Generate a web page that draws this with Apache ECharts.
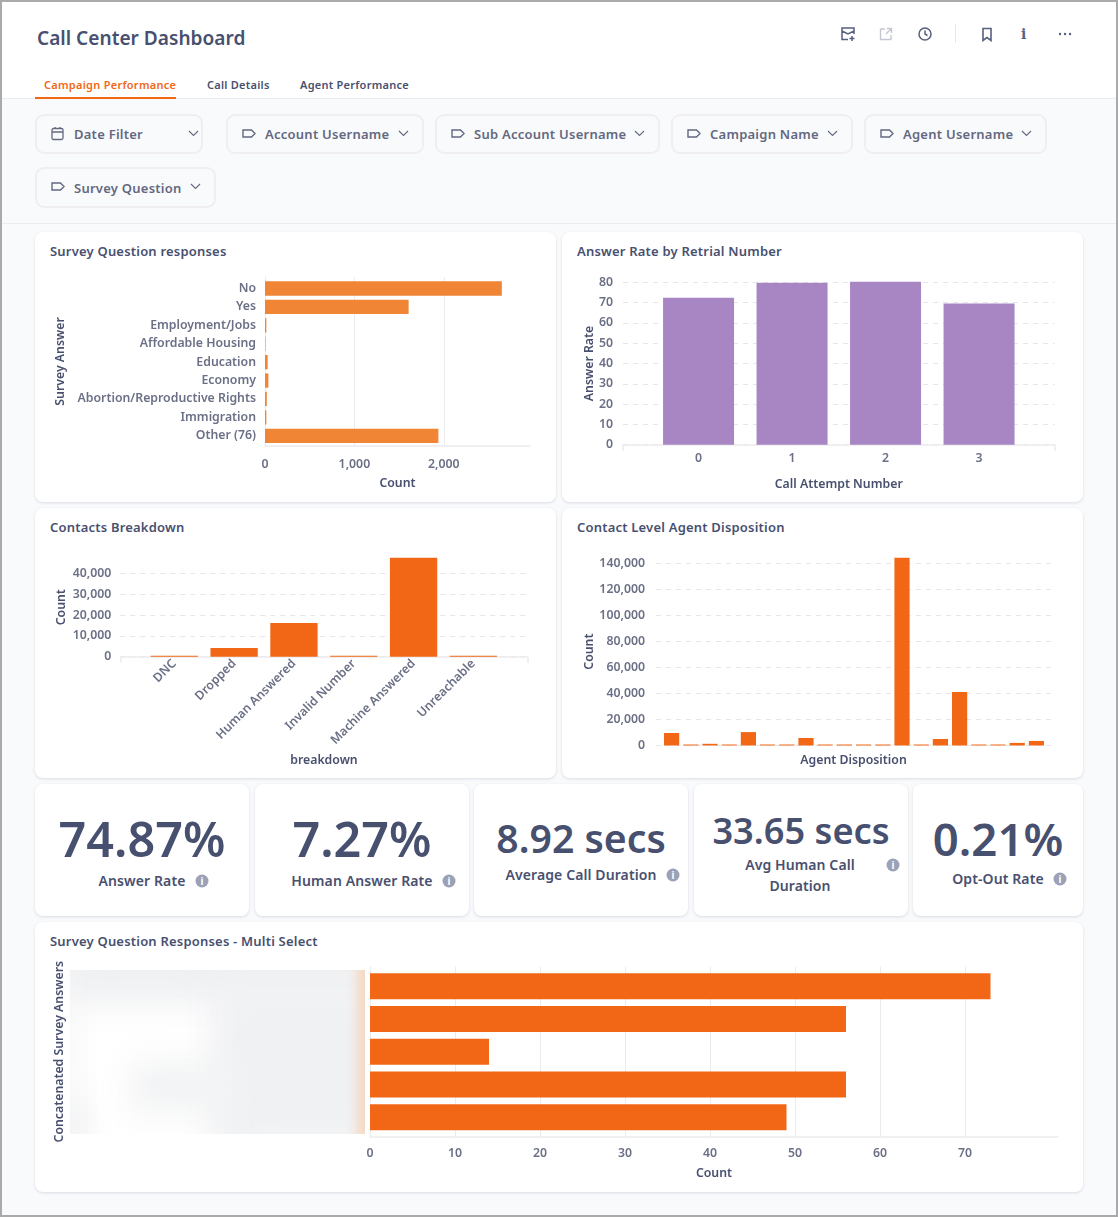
<!DOCTYPE html>
<html><head><meta charset="utf-8">
<script src="https://cdn.jsdelivr.net/npm/echarts@6/dist/echarts.min.js"></script>
<style>
html,body{margin:0;padding:0;background:#fff}
body{width:1118px;height:1217px;position:relative;overflow:hidden;font-family:"Noto Sans",sans-serif;font-weight:600;color:#48506f}
#frame{position:absolute;left:0;top:0;width:1118px;height:1217px;box-sizing:border-box;border:2px solid #aaa;z-index:5;pointer-events:none}
.abs{position:absolute;white-space:nowrap}
#hdr{position:absolute;left:0;top:0;width:1118px;height:98px;background:#fff;border-bottom:1px solid #ebecef}
#bg{position:absolute;left:0;top:99px;width:1118px;height:1118px;background:#f9fafc}
#fl{position:absolute;left:0;top:223px;width:1118px;height:1px;background:#ebecef}
.f{position:absolute;box-sizing:border-box;border:2px solid #f0eef1;border-radius:9px;background:#f9fafc;color:#636880;font-size:13px;letter-spacing:.25px;line-height:36px}
.f span{position:absolute;top:0}
.f svg{position:absolute}
.c{position:absolute;background:#fff;border-radius:8px;box-shadow:0 1px 3px rgba(60,70,100,.16)}
.t{position:absolute;font-size:13px;letter-spacing:.2px;line-height:18px;white-space:nowrap;color:#48506f}
.k{position:absolute;white-space:nowrap;transform:translate(-50%,-50%);color:#48506f}
.i{position:absolute;width:13px;height:13px;border-radius:50%;background:#9ba1b6;color:#fff;font-size:10px;line-height:13px;text-align:center;font-weight:700;transform:translate(-50%,-50%)}
#blur{position:absolute;left:70px;top:970px;width:295px;height:164px;overflow:hidden;background:#fff}
#blur div{position:absolute;filter:blur(16px)}
#chart{position:absolute;left:0;top:0;width:1118px;height:1217px;z-index:3}
</style></head><body>
<div id="bg"></div><div id="hdr"></div><div id="fl"></div>
<div class="abs" style="left:37px;top:24px;font-size:19.1px;line-height:28px;color:#48506f">Call Center Dashboard</div>
<div class="abs" style="left:44px;top:77px;font-size:11px;letter-spacing:.27px;line-height:16px;color:#f26716">Campaign Performance</div>
<div class="abs" style="left:207px;top:77px;font-size:11px;letter-spacing:.25px;line-height:16px">Call Details</div>
<div class="abs" style="left:300px;top:77px;font-size:11px;letter-spacing:.25px;line-height:16px">Agent Performance</div>
<div class="abs" style="left:35px;top:97px;width:141px;height:1.5px;background:#f26716"></div>
<div class="abs" style="left:955px;top:24px;width:1px;height:19px;background:#e6e7ec"></div>
<svg class="abs" style="left:840px;top:26px" width="16" height="16" viewBox="0 0 16 16" fill="none" stroke="#566080" stroke-width="1.5"><path d="M8 13.5H2V2h12v6M2 5l6 3 6-3M12 10v5M9.5 12.5h5"/></svg>
<svg class="abs" style="left:879px;top:27px" width="14" height="14" viewBox="0 0 14 14" fill="none" stroke="#c5c8d4" stroke-width="1.4"><path d="M6 2H1.5v10.5H12V8M8 1.5h4.5V6M12.5 1.5L7 7"/></svg>
<svg class="abs" style="left:917px;top:26px" width="16" height="16" viewBox="0 0 16 16" fill="none" stroke="#566080" stroke-width="1.5"><circle cx="8" cy="8" r="6"/><path d="M8 4.5V8l2.5 1.5"/></svg>
<svg class="abs" style="left:981px;top:27px" width="12" height="15" viewBox="0 0 12 15" fill="none" stroke="#566080" stroke-width="1.6"><path d="M2 1.5h8v12L6 10.5l-4 3z"/></svg>
<div class="abs" style="left:1021px;top:25px;font-size:14px;line-height:18px;font-family:'DejaVu Serif',serif;font-weight:700;color:#566080">i</div>
<svg class="abs" style="left:1058px;top:32px" width="14" height="4" viewBox="0 0 14 4" fill="#566080"><circle cx="2" cy="2" r="1.2"/><circle cx="7" cy="2" r="1.2"/><circle cx="12" cy="2" r="1.2"/></svg>
<div id="filters"></div>
<div id="cards"></div>
<div id="blur">
<div style="left:-30px;top:-30px;width:360px;height:62px;background:#eff0f2"></div>
<div style="left:140px;top:10px;width:190px;height:170px;background:#f0f1f3"></div>
<div style="left:60px;top:92px;width:110px;height:50px;background:#f2f3f4"></div>
<div style="left:-34px;top:130px;width:48px;height:60px;background:#eff0f2"></div>
<div style="left:-26px;top:-10px;width:30px;height:200px;background:#f4f5f6"></div>
<div style="left:288px;top:-20px;width:14px;height:200px;background:#f6d3bb;filter:blur(6px)"></div>
</div>
<div id="chart"></div>
<div id="frame"></div>
<script>
/* ---------- data ---------- */
const surveyAnswers = ['No','Yes','Employment/Jobs','Affordable Housing','Education','Economy','Abortion/Reproductive Rights','Immigration','Other (76)'];
const surveyCounts = [2650,1607,15,5,30,38,20,15,1940];
const attemptNumbers = ['0','1','2','3'];
const answerRates = [72.4,79.8,80.3,69.6];
const breakdownNames = ['DNC','Dropped','Human Answered','Invalid Number','Machine Answered','Unreachable'];
const breakdownCounts = [400,4150,16160,400,47500,400];
const dispositionNames = ['d01','d02','d03','d04','d05','d06','d07','d08','d09','d10','d11','d12','d13','d14','d15','d16','d17','d18','d19','d20'];
const dispositionCounts = [9600,500,1300,500,10300,500,500,5800,500,500,500,500,144300,500,5000,41100,500,500,2000,3500];
const multiSelectAnswers = ['a1','a2','a3','a4','a5'];
const multiSelectCounts = [73,56,14,56,49];
const kpis = [
 {v:'74.87%',l:'Answer Rate',x:142,vy:837.5,vs:48.5,ly:881,lx:142,ix:202,iy:881},
 {v:'7.27%',l:'Human Answer Rate',x:362,vy:837.5,vs:48.5,ly:881,lx:362,ix:449,iy:881},
 {v:'8.92 secs',l:'Average Call Duration',x:581,vy:838,vs:39.2,ly:875,lx:581,ix:673,iy:875},
 {v:'33.65 secs',l:'Avg Human Call',l2:'Duration',x:801,vy:830,vs:36.2,ly:865,lx:800,ix:893,iy:865},
 {v:'0.21%',l:'Opt-Out Rate',x:998,vy:838,vs:45.5,ly:879,lx:998,ix:1060,iy:879}
];
const filterDefs = [
 ['Date Filter',35,114,168,40,'cal'],['Account Username',226,114,198,40,'tag'],['Sub Account Username',435,114,225,40,'tag'],
 ['Campaign Name',671,114,182,40,'tag'],['Agent Username',864,114,183,40,'tag'],['Survey Question',35,167,181,41,'tag']
];
const cardTitles = [
 ['Survey Question responses',35,232,521,270],['Answer Rate by Retrial Number',562,232,521,270],
 ['Contacts Breakdown',35,508,521,270],['Contact Level Agent Disposition',562,508,521,270],
 ['Survey Question Responses - Multi Select',35,922,1048,270]
];
/* ---------- chrome ---------- */
const tagI='<svg style="left:14px;top:11px" width="14" height="13" viewBox="0 0 14 13" fill="none" stroke="#636880" stroke-width="1.4"><path d="M1 3h8.5L13 6.5 9.5 10H1z"/></svg>';
const calI='<svg style="left:14px;top:10px" width="13" height="15" viewBox="0 0 13 15" fill="none" stroke="#636880" stroke-width="1.3"><rect x="1" y="2.5" width="11" height="11" rx="1.5"/><path d="M1 6h11M4 1v2M9 1v2"/></svg>';
const chev=r=>`<svg style="right:${r}px;top:14px" width="11" height="7" viewBox="0 0 11 7" fill="none" stroke="#636880" stroke-width="1.1"><path d="M1 1l4.5 4.5L10 1"/></svg>`;
document.getElementById('filters').innerHTML=filterDefs.map(f=>`<div class="f" style="left:${f[1]}px;top:${f[2]}px;width:${f[3]}px;height:${f[4]}px;line-height:${f[4]-3}px">${f[5]=='cal'?calI:tagI}<span style="left:37px">${f[0]}</span>${chev(f[5]=='cal'?2:13)}</div>`).join('');
document.getElementById('cards').innerHTML=cardTitles.map(c=>`<div class="c" style="left:${c[1]}px;top:${c[2]}px;width:${c[3]}px;height:${c[4]}px"><div class="t" style="left:15px;top:10px">${c[0]}</div></div>`).join('')
 +[[35,214],[255,214],[474,214],[694,214],[913,170]].map(k=>`<div class="c" style="left:${k[0]}px;top:784px;width:${k[1]}px;height:132px"></div>`).join('')
 +kpis.map(k=>`<div class="k" style="left:${k.x}px;top:${k.vy}px;font-size:${k.vs}px;line-height:50px">${k.v}</div><div class="k" style="left:${k.lx}px;top:${k.ly}px;font-size:14px;letter-spacing:.1px;line-height:20px">${k.l}</div>`
  +(k.l2?`<div class="k" style="left:${k.lx}px;top:${k.ly+21}px;font-size:14px;letter-spacing:.1px;line-height:20px">${k.l2}</div>`:'')
  +`<div class="i" style="left:${k.ix}px;top:${k.iy}px">i</div>`).join('');
/* ---------- charts ---------- */
const FONT='"Noto Sans"',TICK='#6b7086',NAME='#48506f',LINE='#ebebef',DASH='#e6e6ea';
const lab=o=>Object.assign({fontFamily:FONT,fontWeight:600,fontSize:12.3,color:TICK},o||{});
const nameS={fontFamily:FONT,fontWeight:600,fontSize:12.3,color:NAME};
const grid=[],xAxis=[],yAxis=[],series=[];
function add(g,x,y,s){const i=grid.length;grid.push(Object.assign({containLabel:false},g));
 xAxis.push(Object.assign({gridIndex:i},x));yAxis.push(Object.assign({gridIndex:i},y));
 if(s)series.push(Object.assign({type:'bar',xAxisIndex:i,yAxisIndex:i,silent:true,animation:false},s));}
const off={show:false};
function hiddenVal(max){return {type:'value',min:0,max:max,show:false,splitLine:off};}
const box=(l,r,t,b)=>({left:l,top:t,width:r-l,height:b-t});
const dashed={show:true,showMaxLine:false,lineStyle:{color:DASH,type:[5,5],width:1}};
const down={padding:[4,0,0,0]};
const endAxis={type:'value',min:0,max:1,interval:1,axisLine:{show:true,lineStyle:{color:LINE,width:1.5}},axisTick:{show:true,length:6,lineStyle:{color:LINE,width:1.5}},axisLabel:off,splitLine:off};
/* horizontal survey */
const H1=2965;
add(box(265,530,277,446),{type:'value',min:0,max:H1,interval:1000,splitLine:{show:true,showMinLine:false,showMaxLine:false,lineStyle:{color:LINE,width:1}},
 axisLine:{show:true,lineStyle:{color:LINE,width:1.5}},axisTick:off,axisLabel:lab({margin:12,showMaxLabel:false}),name:'Count',nameLocation:'middle',nameGap:31,nameTextStyle:nameS},
 {type:'value',min:0,max:1,axisLine:{show:true,lineStyle:{color:LINE,width:1}},axisTick:off,axisLabel:off,splitLine:off,name:'Survey Answer',nameLocation:'middle',nameGap:199,nameTextStyle:nameS});
add(box(265,530,279.3,445),hiddenVal(H1),{type:'category',inverse:true,data:surveyAnswers,axisLine:off,axisTick:off,axisLabel:lab({margin:9,interval:0})},
 {data:surveyCounts,barWidth:14.3,itemStyle:{color:'#ef8535'}});
/* answer rate */
add(box(623,1054.5,282.3,444.7),Object.assign({},endAxis,{name:'Call Attempt Number',nameLocation:'middle',nameGap:34,nameTextStyle:nameS}),
 {type:'value',min:0,max:80,interval:10,axisLine:off,axisTick:off,axisLabel:lab(Object.assign({margin:10},down)),splitLine:{show:true,lineStyle:{color:DASH,type:[5,5]}},name:'Answer Rate',nameLocation:'middle',nameGap:28,nameTextStyle:nameS});
add(box(651.8,1025.8,281.7,444.7),{type:'category',data:attemptNumbers,axisLine:off,axisTick:off,axisLabel:lab({margin:8})},hiddenVal(80.3),
 {data:answerRates,barWidth:71,itemStyle:{color:'#a886c4'}});
/* contacts */
add(box(120.3,527.6,557.7,656.7),Object.assign({},endAxis,{name:'breakdown',nameLocation:'middle',nameGap:98,nameTextStyle:nameS}),
 {type:'value',min:0,max:47500,interval:10000,axisLine:off,axisTick:off,axisLabel:lab(Object.assign({margin:9,showMaxLabel:false},down)),splitLine:dashed,name:'Count',nameLocation:'middle',nameGap:53,nameTextStyle:nameS});
add(box(144.4,503.3,557.7,656.7),{type:'category',data:breakdownNames,axisLine:off,axisTick:off,axisLabel:lab({rotate:45,interval:0,margin:5})},hiddenVal(47500),
 {data:breakdownCounts,barWidth:47.3,itemStyle:{color:'#f26716'}});
/* disposition */
add(box(656,1051,557.7,745.5),{type:'value',min:0,max:1,show:true,axisLine:off,axisTick:off,axisLabel:off,splitLine:off,name:'Agent Disposition',nameLocation:'middle',nameGap:9,nameTextStyle:nameS},
 {type:'value',min:0,max:144300,interval:20000,axisLine:off,axisTick:off,axisLabel:lab(Object.assign({margin:11,showMaxLabel:false},down)),splitLine:dashed,name:'Count',nameLocation:'middle',nameGap:61,nameTextStyle:nameS});
add(box(662,1046,557.7,745.5),{type:'category',data:dispositionNames,axisLine:off,axisTick:off,axisLabel:off},hiddenVal(144300),
 {data:dispositionCounts,barWidth:15.2,barMinHeight:1,itemStyle:{color:'#f26716'}});
/* multi select */
const H5=80;
add(box(370,1050,966.7,1136.7),{type:'value',min:0,max:H5,interval:10,splitLine:{show:true,showMinLine:false,showMaxLine:false,lineStyle:{color:LINE,width:1}},
 axisLine:off,axisTick:off,axisLabel:lab({margin:11,showMaxLabel:false})},
 {type:'value',min:0,max:1,axisLine:{show:true,lineStyle:{color:LINE,width:1}},axisTick:off,axisLabel:off,splitLine:off,name:'Concatenated Survey Answers',nameLocation:'middle',nameGap:305,nameTextStyle:nameS});
add(box(370,1058,966.7,1136.7),{type:'value',min:0,max:1,axisLine:{show:true,lineStyle:{color:LINE,width:1.5}},axisTick:off,axisLabel:off,splitLine:off,name:'Count',nameLocation:'middle',nameGap:31,nameTextStyle:nameS},hiddenVal(1));
add(box(370,1050,970,1133.5),hiddenVal(H5),{type:'category',inverse:true,data:multiSelectAnswers,axisLine:off,axisTick:off,axisLabel:off},
 {data:multiSelectCounts,barWidth:26,itemStyle:{color:'#f26716'}});
const chart=echarts.init(document.getElementById('chart'),null,{renderer:'canvas'});
chart.setOption({backgroundColor:'transparent',animation:false,grid,xAxis,yAxis,series});
</script>
</body></html>
